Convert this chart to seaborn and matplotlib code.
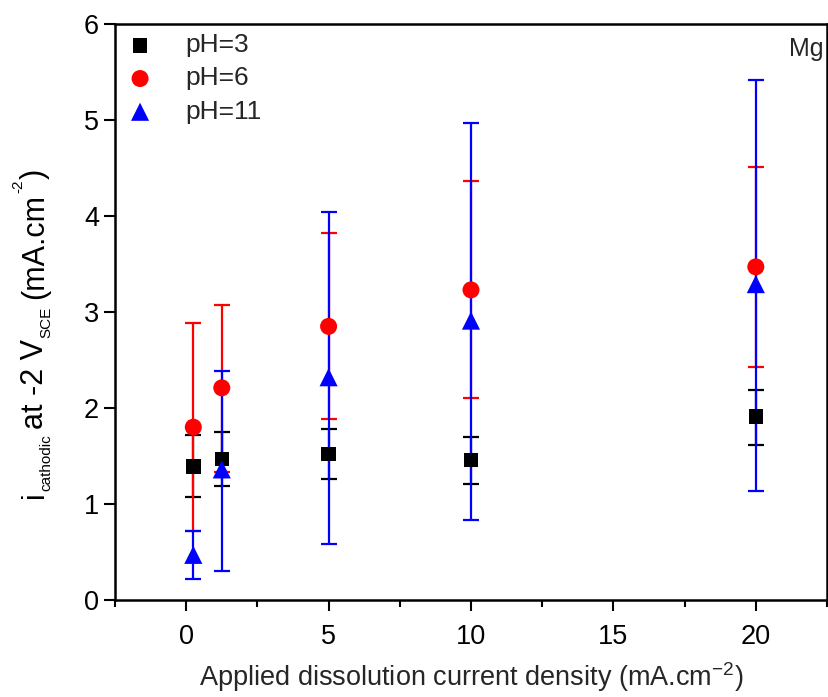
import matplotlib
matplotlib.use("Agg")
import matplotlib.pyplot as plt
import seaborn as sns
import pandas as pd
import numpy as np

current_density = [0.25, 1.25, 5, 10, 20]

ph3_mean = [1.39, 1.47, 1.52, 1.46, 1.91]
ph3_low = [1.07, 1.19, 1.26, 1.21, 1.61]
ph3_high = [1.72, 1.75, 1.78, 1.70, 2.19]

ph6_mean = [1.80, 2.21, 2.85, 3.23, 3.47]
ph6_low = [0.72, 1.33, 1.88, 2.10, 2.43]
ph6_high = [2.88, 3.07, 3.82, 4.36, 4.51]

ph11_mean = [0.47, 1.36, 2.32, 2.91, 3.29]
ph11_low = [0.22, 0.30, 0.58, 0.83, 1.14]
ph11_high = [0.72, 2.38, 4.04, 4.97, 5.42]

labels = ["pH=3", "pH=6", "pH=11"]
colors = ["black", "#ff0000", "#0000ff"]
markers = ["s", "o", "^"]

# y-axis label pieces: (text, role)
ylabel_parts = [("i", "main"), ("cathodic", "sub"), ("at -2 V", "main"), ("SCE", "sub"),
                ("(mA.cm", "main"), ("-2", "sup"), (")", "main")]

sns.set_theme(style="ticks")
plt.rcParams["font.family"] = ["Liberation Sans", "DejaVu Sans"]
plt.rcParams["mathtext.fontset"] = "custom"
plt.rcParams["mathtext.rm"] = "Liberation Sans"

rows = []
series = [(ph3_mean, ph3_low, ph3_high), (ph6_mean, ph6_low, ph6_high), (ph11_mean, ph11_low, ph11_high)]
for lab, (m, lo, hi) in zip(labels, series):
    for x, a, b, c in zip(current_density, m, lo, hi):
        rows.append({"x": x, "y": a, "lo": b, "hi": c, "series": lab})
df = pd.DataFrame(rows)

W, H = 829, 697
fig = plt.figure(figsize=(W / 100, H / 100), dpi=100)
ax = fig.add_axes([0.1387, 0.1392, 0.8589, 0.8264])

for i, lab in enumerate(labels):
    d = df[df.series == lab]
    yerr = np.vstack([d.y - d.lo, d.hi - d.y])
    ax.errorbar(d.x, d.y, yerr=yerr, fmt="none", ecolor=colors[i],
                elinewidth=1.6, capsize=6, capthick=1.6, zorder=2 + i)

sizes = {"pH=3": 110, "pH=6": 150, "pH=11": 170}
for i, lab in enumerate(labels):
    d = df[df.series == lab]
    sns.scatterplot(data=d, x="x", y="y", ax=ax, marker=markers[i], color=colors[i],
                    s=sizes[lab], edgecolor="none", linewidth=0, label=lab, zorder=5 + i)

ax.set_xlim(-2.5, 22.5)
ax.set_ylim(0, 6)
ax.set_xticks([0, 5, 10, 15, 20])
ax.set_xticks(np.arange(-2.5, 22.6, 2.5), minor=True)
ax.set_yticks([0, 1, 2, 3, 4, 5, 6])
ax.tick_params(axis="both", which="major", direction="out", length=8, width=1.5,
               labelsize=19.5, color="black", labelcolor="black")
ax.tick_params(axis="x", which="major", pad=9)
ax.tick_params(axis="x", which="minor", direction="out", length=5, width=1.5, color="black")
ax.tick_params(axis="y", which="minor", left=False)
for s in ax.spines.values():
    s.set_linewidth(1.8)
    s.set_color("black")
    s.set_visible(True)

ax.set_xlabel(r"Applied dissolution current density (mA.cm$^{\mathregular{-2}}$)", fontsize=19.5, labelpad=8)
ax.set_ylabel("")

# y label built from pieces, reading bottom to top
renderer = fig.canvas.get_renderer()
style = {"main": (22, 0, 0), "sub": (11, 7, 0), "sup": (11, -21, 0)}
gaps = [0, 0, 6, 1, 7, 1, 1]
base_x = 43
cursor = H - 498
for (txt, role), gap in zip(ylabel_parts, gaps):
    fs, dx, _ = style[role]
    cursor += gap
    t = fig.text((base_x + dx) / W, cursor / H, txt, fontsize=fs, rotation=90,
                 rotation_mode="anchor", ha="left", va="baseline", color="black")
    bb = t.get_window_extent(renderer)
    cursor += bb.height

ax.text(0.995, 0.978, "Mg", transform=ax.transAxes, ha="right", va="top", fontsize=18)

leg = ax.legend(loc="upper left", frameon=False, fontsize=19, handletextpad=1.1,
                borderaxespad=0.0, borderpad=0.35, labelspacing=0.35, markerscale=1.0,
                handlelength=1.2)

fig.savefig("out.png", dpi=100)
